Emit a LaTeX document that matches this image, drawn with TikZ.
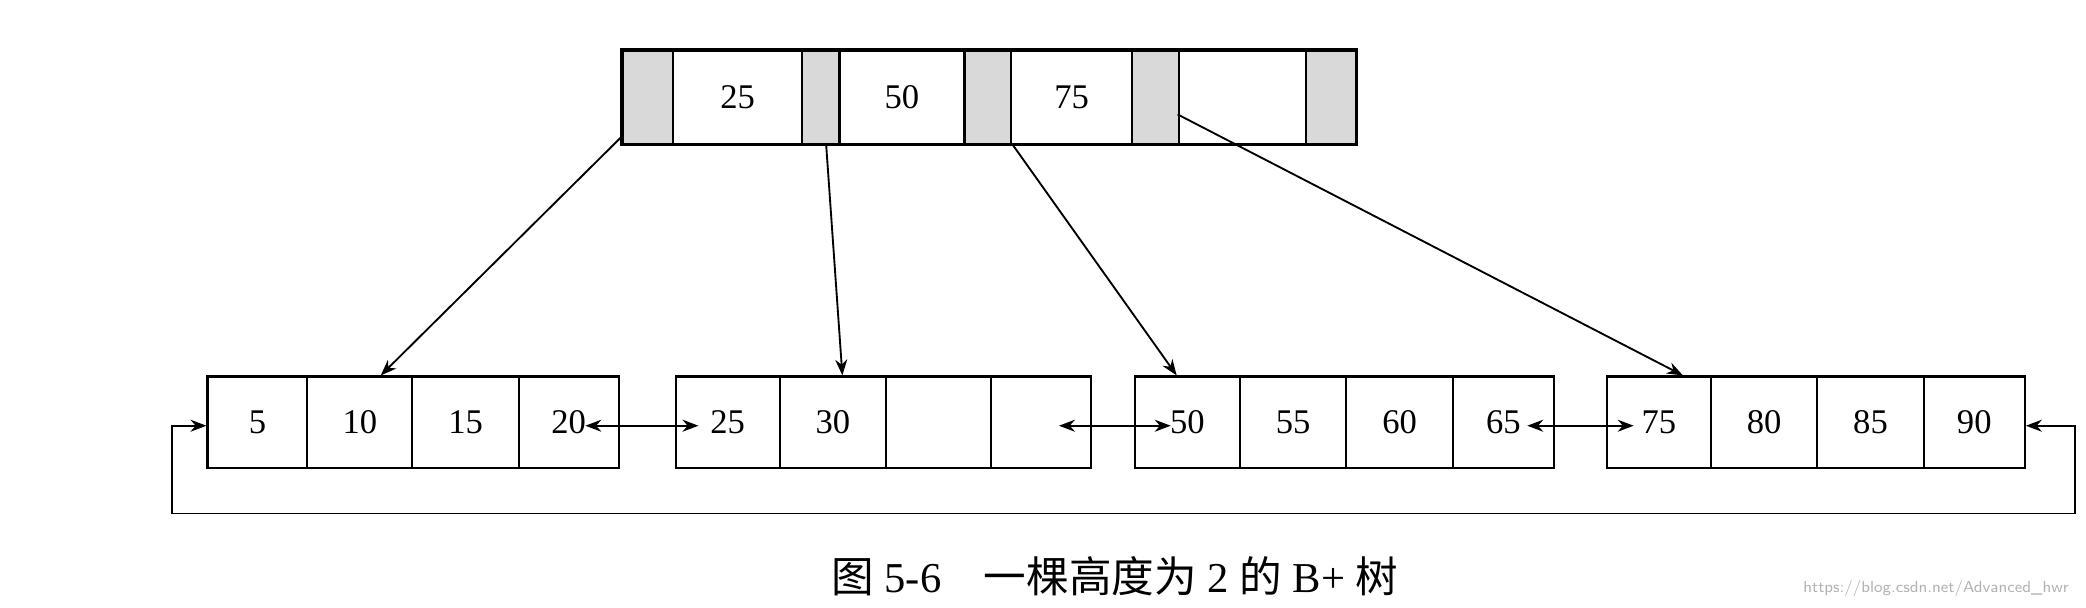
\documentclass[tikz,border=0pt]{standalone}
\usepackage{fontspec}
\setmainfont{Liberation Serif}
\newfontfamily\cjk{Noto Sans CJK SC}
\usetikzlibrary{arrows.meta}
\begin{document}
\begin{tikzpicture}[x=0.5pt,y=-0.5pt,
  cell/.style={draw,line width=0.8pt,inner sep=0pt,font=\fontsize{13}{14}\selectfont},
  shade/.style={cell,fill=gray!30},
  arr/.style={-{Stealth[length=6pt,width=4.5pt]},line width=0.7pt},
  darr/.style={{Stealth[length=6pt,width=4.5pt]}-{Stealth[length=6pt,width=4.5pt]},line width=0.7pt}]
\useasboundingbox (0,0) rectangle (1568,457);
% top node
\foreach \a/\b/\s/\t/\n in {468/506/shade//t0,506/603/cell/25/t1,603/631/shade//t2,631/725/cell/50/t3,725/760/shade//t4,760/851/cell/75/t5,851/886/shade//t6,886/982/cell//t7,982/1019/shade//t8}{
  \node[\s,minimum width=(\b-\a)*0.5pt,minimum height=35pt] (\n) at ({(\a+\b)/2},73) {\t};
}
\draw[line width=1.2pt] (t0.north west) rectangle (t8.south east);
% leaves
\foreach \L/\xa/\xb/\xc/\xd/\xe/\va/\vb/\vc/\vd in {
  a/156/231/310/390/465/5/10/15/20,
  b/508/586/666/745/820/25/30//,
  c/853/932/1012/1092/1168/50/55/60/65,
  d/1208/1286/1366/1446/1522/75/80/85/90}{
  \node[cell,minimum width=(\xb-\xa)*0.5pt,minimum height=34.5pt] (\L1) at ({(\xa+\xb)/2},317.5) {\va};
  \node[cell,minimum width=(\xc-\xb)*0.5pt,minimum height=34.5pt] (\L2) at ({(\xb+\xc)/2},317.5) {\vb};
  \node[cell,minimum width=(\xd-\xc)*0.5pt,minimum height=34.5pt] (\L3) at ({(\xc+\xd)/2},317.5) {\vc};
  \node[cell,minimum width=(\xe-\xd)*0.5pt,minimum height=34.5pt] (\L4) at ({(\xd+\xe)/2},317.5) {\vd};
}
% pointers
\draw[arr] ([yshift=3pt]t0.south west) -- ([xshift=28pt]a2.north west);
\draw[arr] ([xshift=2pt]t2.south) -- ([xshift=24pt]b2.north west);
\draw[arr] ([xshift=1pt]t5.south west) -- ([xshift=-4pt]c1.north);
\draw[arr] ([yshift=-6.5pt]t7.west) -- ([xshift=9pt]d1.north);
% sibling links
\coordinate (p1) at (440,320); \coordinate (q1) at (525,320);
\coordinate (p2) at (796,320); \coordinate (q2) at (880,320);
\coordinate (p3) at (1148,320); \coordinate (q3) at (1228,320);
\draw[darr] (p1) -- (q1);
\draw[darr] (p2) -- (q2);
\draw[darr] (p3) -- (q3);
% loop
\coordinate (r1) at (1560,320); \coordinate (r2) at (1560,386);
\coordinate (r3) at (129,386); \coordinate (r4) at (129,320);
\draw[darr] (d4.east|-r1) -- (r1) -- (r2) -- (r3) -- (r4) -- (a1.west|-r4);
% caption
\node[font=\fontsize{16}{18}\selectfont] (cap) at (838,433) {{\cjk 图} 5-6\quad{\cjk 一棵高度为} 2 {\cjk 的} B+ {\cjk 树}};
\node[font=\sffamily\fontsize{6}{7}\selectfont,text=gray!60,anchor=east] (wm) at (1562,442) {https://blog.csdn.net/Advanced\_hwr};
\end{tikzpicture}
\end{document}
